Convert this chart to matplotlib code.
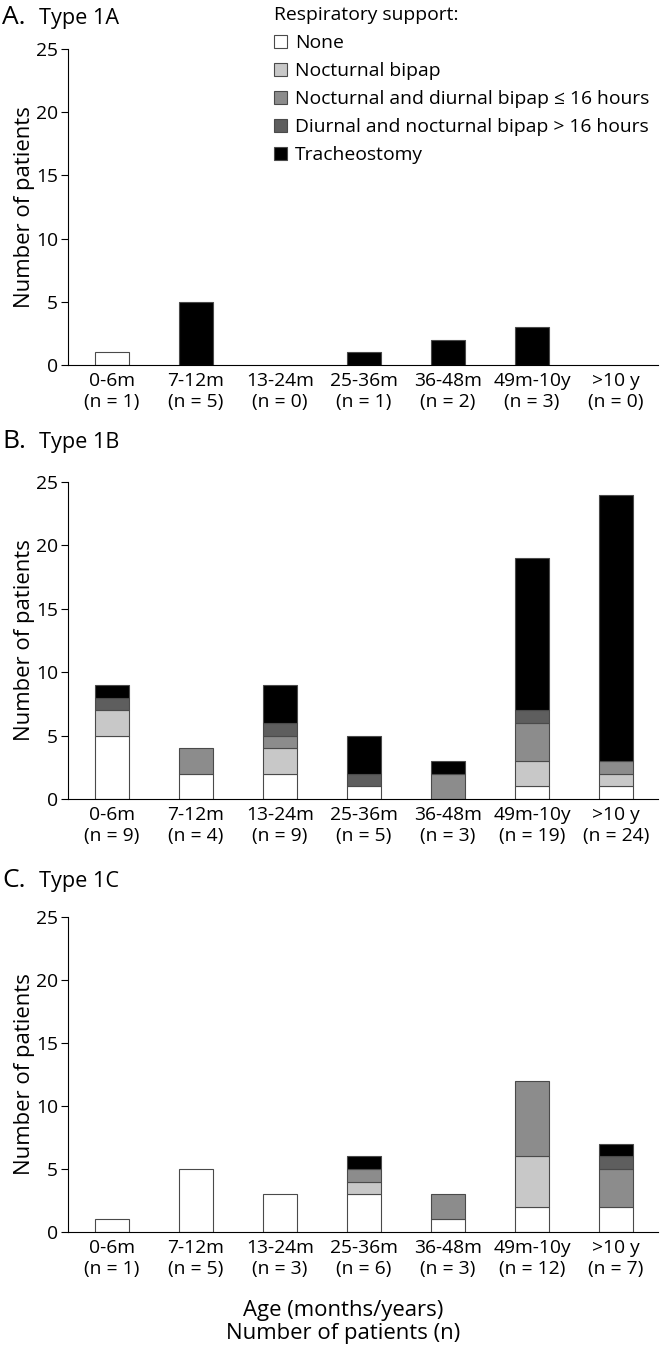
import numpy as np
import matplotlib.pyplot as plt
from matplotlib.patches import Patch

plt.rcParams['font.family'] = ['Open Sans', 'DejaVu Sans']

# ---------------- data ----------------
ages = ['0-6m', '7-12m', '13-24m', '25-36m', '36-48m', '49m-10y', '>10 y']
support = ['None', 'Nocturnal bipap', 'Nocturnal and diurnal bipap \u2264 16 hours',
           'Diurnal and nocturnal bipap > 16 hours', 'Tracheostomy']
colors = ['#ffffff', '#c8c8c8', '#8c8c8c', '#5e5e5e', '#000000']

# rows = support category, columns = age group
type1a = np.array([[1, 0, 0, 0, 0, 0, 0],
                   [0, 0, 0, 0, 0, 0, 0],
                   [0, 0, 0, 0, 0, 0, 0],
                   [0, 0, 0, 0, 0, 0, 0],
                   [0, 5, 0, 1, 2, 3, 0]])
type1b = np.array([[5, 2, 2, 1, 0, 1, 1],
                   [2, 0, 2, 0, 0, 2, 1],
                   [0, 2, 1, 0, 2, 3, 1],
                   [1, 0, 1, 1, 0, 1, 0],
                   [1, 0, 3, 3, 1, 12, 21]])
type1c = np.array([[1, 5, 3, 3, 1, 2, 2],
                   [0, 0, 0, 1, 0, 4, 0],
                   [0, 0, 0, 1, 2, 6, 3],
                   [0, 0, 0, 0, 0, 0, 1],
                   [0, 0, 0, 1, 0, 0, 1]])

panels = [('A.', 'Type 1A', type1a), ('B.', 'Type 1B', type1b), ('C.', 'Type 1C', type1c)]

W, H = 661, 1350
# axes in pixels: (top of y=25, y=0 baseline), title baselines
ax_tops = [49, 482, 917]
ax_bots = [365, 799, 1232]
title_y = [24, 448, 887]
AX_L, AX_R = 68, 658

FS = 13.9


def draw_panel(ax, data):
    x = np.arange(len(ages))
    bottom = np.zeros(len(ages))
    for i in range(len(support)):
        keep = data[i] > 0
        ax.bar(x[keep], data[i][keep], 0.405, bottom=bottom[keep], color=colors[i],
               edgecolor='#4a4a4a', linewidth=0.8)
        bottom = bottom + data[i]
    totals = data.sum(axis=0)
    ax.set_xticks(x)
    ax.set_xticklabels([a + '\n(n = %d)' % n for a, n in zip(ages, totals)],
                       fontsize=FS, linespacing=1.2)
    ax.tick_params(axis='x', length=0, pad=5)
    ax.tick_params(axis='y', length=5, width=0.8, labelsize=FS, pad=2)
    ax.set_ylim(0, 25)
    ax.set_yticks([0, 5, 10, 15, 20, 25])
    ax.set_xlim(-0.524, 6.5)
    for s in ['top', 'right']:
        ax.spines[s].set_visible(False)
    ax.spines['left'].set_linewidth(0.8)
    ax.spines['bottom'].set_linewidth(0.8)
    ax.set_ylabel('Number of patients', fontsize=15.9, labelpad=1)


fig = plt.figure(figsize=(W / 100, H / 100), dpi=100)
for k, (letter, title, data) in enumerate(panels):
    rect = [AX_L / W, 1 - ax_bots[k] / H, (AX_R - AX_L) / W,
            (ax_bots[k] - ax_tops[k]) / H]
    ax = fig.add_axes(rect)
    draw_panel(ax, data)
    fig.text(2 / W, 1 - title_y[k] / H, letter, fontsize=19, va='baseline', ha='left')
    fig.text(39 / W, 1 - title_y[k] / H, title, fontsize=15.6, va='baseline', ha='left')

handles = [Patch(facecolor=c, edgecolor='#4a4a4a', linewidth=0.8) for c in colors]
fig.legend(handles=handles, labels=support, title='Respiratory support:',
           loc='upper left', bbox_to_anchor=(274 / W, 1 - 6 / H),
           frameon=False, fontsize=FS, title_fontsize=FS,
           handlelength=0.68, handleheight=0.68, handletextpad=0.42,
           labelspacing=0.52, alignment='left', borderaxespad=0,
           borderpad=0)

fig.text(343 / W, 1 - 1322 / H, 'Age (months/years)\nNumber of patients (n)',
         ha='center', va='center', fontsize=15.9, linespacing=1.12)

fig.savefig('out.png', dpi=100)
